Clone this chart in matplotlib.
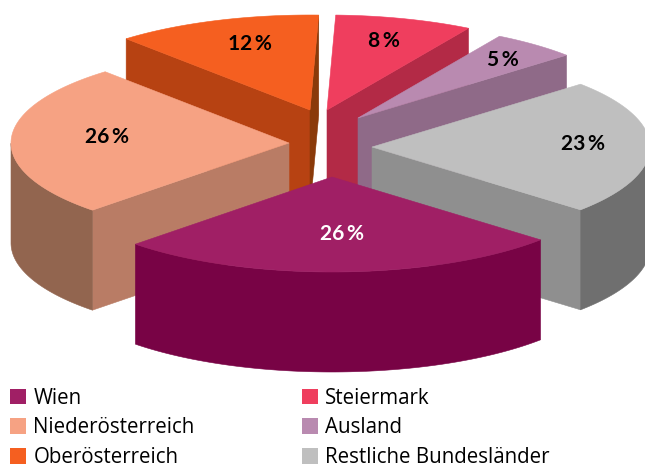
import numpy as np
import matplotlib
matplotlib.use("Agg")
import matplotlib.pyplot as plt
from matplotlib.patches import Polygon, Patch

categories = ["Steiermark", "Ausland", "Restliche Bundesländer", "Wien", "Niederösterreich", "Oberösterreich"]
values = [8, 5, 23, 26, 26, 12]
legend_order = ["Wien", "Niederösterreich", "Oberösterreich", "Steiermark", "Ausland", "Restliche Bundesländer"]

top_colors = dict(zip(categories, ["#EF3E5E", "#B98AB0", "#BFBFBF", "#A01F65", "#F6A283", "#F55F20"]))
# start radial face, end radial face, outer rim
side_colors = {
    "Steiermark": (None, "#B32A46", None),
    "Ausland": (None, "#8F6A88", None),
    "Restliche Bundesländer": (None, "#8F8F8F", "#6F6F6F"),
    "Wien": (None, None, "#780345"),
    "Niederösterreich": ("#B97C65", None, "#92654F"),
    "Oberösterreich": ("#B74212", "#8A3A0A", None),
}
# how far each slice is pulled out of the pie (pixels in the picture)
explode = {
    "Steiermark": (-3, -36),
    "Ausland": (28, -28),
    "Restliche Bundesländer": (42, 1),
    "Wien": (2, 31),
    "Niederösterreich": (-41, -3),
    "Oberösterreich": (-20, -36),
}
label_pos = {
    "Steiermark": (384, 41),
    "Ausland": (503, 60),
    "Restliche Bundesländer": (583, 144),
    "Wien": (342, 234),
    "Niederösterreich": (107, 137),
    "Oberösterreich": (250, 44),
}
label_colors = {"Wien": "white"}
draw_order = ["Oberösterreich", "Steiermark", "Ausland", "Niederösterreich", "Restliche Bundesländer", "Wien"]

CX, CY = 330, 146
START = 1.8
DEPTH = 100
RX, RY = 278, 95


def project(theta):
    t = np.radians(theta)
    return RX * np.sin(t), -RY * np.cos(t)


fig = plt.figure(figsize=(6.45, 4.65), dpi=100)
ax = fig.add_axes([0, 0, 1, 1])
ax.set_xlim(0, 645)
ax.set_ylim(465, 0)
ax.axis("off")

bounds = START + np.cumsum([0] + values) * 3.6
slices = {c: (bounds[i], bounds[i + 1]) for i, c in enumerate(categories)}


def face(pts, color, z):
    ax.add_patch(Polygon(pts, closed=True, facecolor=color, edgecolor=color, lw=0.4, zorder=z))


for z, name in enumerate(draw_order):
    t0, t1 = slices[name]
    ox, oy = CX + explode[name][0], CY + explode[name][1]
    th = np.linspace(t0, t1, 120)
    dx, dy = project(th)
    arc = np.column_stack([ox + dx, oy + dy])
    apex = np.array([ox, oy])
    down = np.array([0, DEPTH])
    c_start, c_end, c_outer = side_colors[name]
    base = z * 10
    if c_start:
        face([apex, arc[0], arc[0] + down, apex + down], c_start, base + 1)
    if c_end:
        face([apex, arc[-1], arc[-1] + down, apex + down], c_end, base + 2)
    if c_outer:
        vis = arc[(th >= 90) & (th <= 270)]
        face(np.vstack([vis, (vis + down)[::-1]]), c_outer, base + 3)
    face(np.vstack([apex, arc]), top_colors[name], base + 4)

for name, v in zip(categories, values):
    x, y = label_pos[name]
    ax.text(x, y, f"{v}\u2009%", ha="center", va="center", family=["Lato", "DejaVu Sans"],
            weight="bold", fontsize=15, color=label_colors.get(name, "black"), zorder=200)

handles = [Patch(facecolor=top_colors[n], edgecolor="none", label=n) for n in legend_order]
ax.legend(handles=handles, ncol=2, loc="lower left", bbox_to_anchor=(10 / 645, -3 / 465),
          bbox_transform=fig.transFigure, frameon=False, prop={"family": "Open Sans", "size": 14.8},
          handlelength=0.78, handleheight=0.78, handletextpad=0.36, labelspacing=0.42,
          columnspacing=5.2, borderaxespad=0, borderpad=0)

fig.savefig("out.png", dpi=100)
